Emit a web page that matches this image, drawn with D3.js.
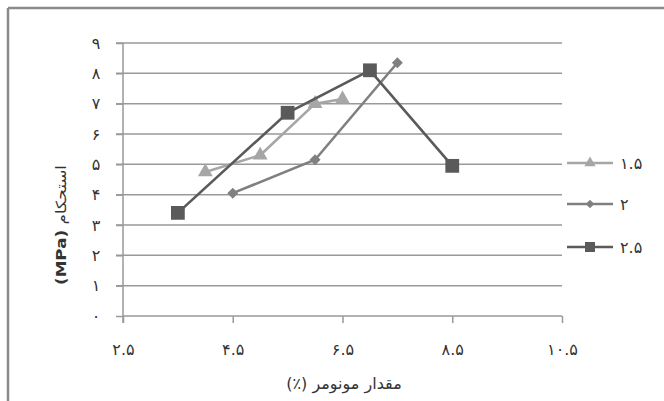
<!DOCTYPE html>
<html><head><meta charset="utf-8">
<script src="https://cdn.jsdelivr.net/npm/d3@7"></script>
<style>body{margin:0;background:#fff}svg{display:block}text{font-family:"DejaVu Sans",sans-serif}</style>
</head><body><svg id="c" width="664" height="401"></svg>
<script>
const seriesNames = ["1.5","2","2.5"];
const legendLabels = ["۱.۵","۲","۲.۵"];
const x15 = [4.0, 5.0, 6.0, 6.5];
const y15 = [4.75, 5.3, 7.0, 7.15];
const x2 = [4.5, 6.0, 7.5];
const y2 = [4.05, 5.15, 8.35];
const x25 = [3.5, 5.5, 7.0, 8.5];
const y25 = [3.4, 6.7, 8.1, 4.95];
const xTicks = [2.5, 4.5, 6.5, 8.5, 10.5];
const xTickLabels = ["۲.۵","۴.۵","۶.۵","۸.۵","۱۰.۵"];
const yTicks = [0,1,2,3,4,5,6,7,8,9];
const yTickLabels = ["۰","۱","۲","۳","۴","۵","۶","۷","۸","۹"];
const yTitleFa = "استحکام";
const yTitleUnit = "(MPa)";
const xTitle = "مقدار مونومر (٪)";

const colors = ["#a6a6a6","#808080","#5a5a5a"];
const symbols = [d3.symbolTriangle, d3.symbolSquare, d3.symbolSquare];
const symRot = [0, 45, 0];
const symSizes = [95, 60, 190];
const legSizes = [55, 36, 100];

const svg = d3.select("#c");
// frame
svg.append("line").attr("x1",8).attr("x2",664).attr("y1",8).attr("y2",8).attr("stroke","#8a8a8a").attr("stroke-width",2.5);
svg.append("line").attr("x1",8).attr("x2",8).attr("y1",8).attr("y2",401).attr("stroke","#8a8a8a").attr("stroke-width",2.5);

const x = d3.scaleLinear().domain([2.5,10.5]).range([123,562]);
const y = d3.scaleLinear().domain([0,9]).range([316,43]);

// gridlines
svg.append("g").selectAll("line").data(yTicks.slice(1)).join("line")
  .attr("x1",116).attr("x2",562).attr("y1",d=>y(d)).attr("y2",d=>y(d))
  .attr("stroke","#999").attr("stroke-width",1.5);

// y axis
const ya = svg.append("g").attr("transform","translate(123,0)")
  .call(d3.axisLeft(y).tickValues(yTicks).tickSize(7).tickPadding(20).tickFormat((d,i)=>yTickLabels[i]));
ya.select(".domain").attr("stroke","#999").attr("stroke-width",1.5).attr("d","M0,"+y(9)+"V"+(y(0)+7));
ya.selectAll(".tick line").attr("stroke","#999").attr("stroke-width",1.5);
ya.selectAll("text").attr("font-size",16).attr("fill","#333").attr("text-anchor","middle");

// x axis
const xa = svg.append("g").attr("transform","translate(0,316)")
  .call(d3.axisBottom(x).tickValues(xTicks).tickSize(7).tickPadding(21).tickFormat((d,i)=>xTickLabels[i]));
xa.select(".domain").attr("stroke","#999").attr("stroke-width",1.5).attr("d","M"+x(2.5)+",0H"+x(10.5));
xa.selectAll(".tick line").attr("stroke","#999").attr("stroke-width",1.5);
xa.selectAll("text").attr("font-size",16).attr("fill","#333");

// titles
const yt = svg.append("text").attr("transform","translate(66,225) rotate(-90) scale(1.2,1)")
  .attr("text-anchor","middle").attr("font-size",14).attr("fill","#333");
yt.append("tspan").attr("font-weight","bold").text(yTitleUnit);
yt.append("tspan").text(" " + yTitleFa);
svg.append("text").attr("x",344).attr("y",389).attr("direction","rtl").attr("text-anchor","middle")
  .attr("font-size",16).attr("fill","#333").text(xTitle);

// series
const data = [
  x15.map((v,i)=>[v,y15[i]]),
  x2.map((v,i)=>[v,y2[i]]),
  x25.map((v,i)=>[v,y25[i]])
];
const line = d3.line().x(d=>x(d[0])).y(d=>y(d[1]));
data.forEach((pts,s)=>{
  const g = svg.append("g");
  g.append("path").attr("d",line(pts)).attr("fill","none").attr("stroke",colors[s]).attr("stroke-width",2.6);
  g.selectAll("path.m").data(pts).join("path").attr("class","m")
    .attr("transform",d=>`translate(${x(d[0])},${y(d[1])}) rotate(${symRot[s]})`)
    .attr("d",d3.symbol().type(symbols[s]).size(symSizes[s])).attr("fill",colors[s]);
});

// legend
const legY = [163, 204, 247];
seriesNames.forEach((n,s)=>{
  const g = svg.append("g").attr("transform",`translate(0,${legY[s]})`);
  g.append("line").attr("x1",567).attr("x2",613).attr("stroke",colors[s]).attr("stroke-width",2.6);
  g.append("path").attr("transform",`translate(590,0) rotate(${symRot[s]})`).attr("d",d3.symbol().type(symbols[s]).size(legSizes[s])).attr("fill",colors[s]);
  g.append("text").attr("x",620).attr("y",6).attr("font-size",16).attr("fill","#333").text(legendLabels[s]);
});
</script></body></html>
